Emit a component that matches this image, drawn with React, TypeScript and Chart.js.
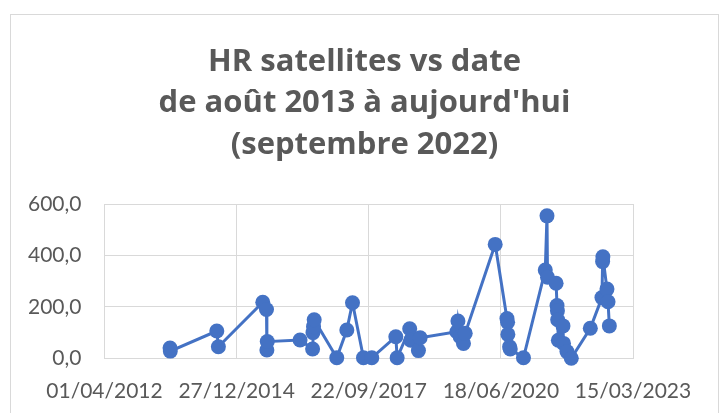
import React, { useEffect, useRef } from 'react';
import { Chart, registerables } from 'chart.js';

Chart.register(...registerables);

const TITLE_LINES = ['HR satellites vs date', "de août 2013 à aujourd'hui", '(septembre 2022)'];
const X_TICK_LABELS = ['01/04/2012', '27/12/2014', '22/09/2017', '18/06/2020', '15/03/2023'];
const Y_TICKS = [0, 200, 400, 600];

const DATES = [
  '10/08/2013', '12/08/2013', '30/07/2014', '11/08/2014',
  '13/07/2015', '10/08/2015', '13/08/2015', '16/08/2015',
  '20/04/2016', '24/07/2016', '27/07/2016', '31/07/2016', '05/08/2016',
  '23/01/2017', '09/04/2017', '22/05/2017', '13/08/2017', '15/10/2017',
  '15/04/2018', '25/04/2018', '29/07/2018', '06/08/2018', '03/10/2018', '16/10/2018',
  '21/07/2019', '29/07/2019', '15/08/2019', '09/09/2019', '22/09/2019',
  '06/05/2020', '03/08/2020', '08/08/2020', '10/08/2020', '23/08/2020', '28/08/2020', '06/12/2020',
  '20/05/2021', '02/06/2021', '06/06/2021', '10/08/2021', '17/08/2021', '20/08/2021', '22/08/2021',
  '27/08/2021', '01/10/2021', '05/10/2021', '31/10/2021', '03/12/2021',
  '26/04/2022', '23/07/2022', '28/07/2022', '30/07/2022', '30/08/2022', '07/09/2022', '17/09/2022',
];

const HR_VALUES = [
  40, 28, 106, 45,
  218, 190, 32, 65,
  71, 36, 100, 123, 150,
  2, 110, 216, 2, 2,
  84, 2, 115, 70, 30, 80,
  103, 145, 84, 58, 97,
  443, 155, 140, 93, 45, 36, 2,
  343, 554, 315, 292, 205, 185, 150,
  70, 126, 58, 26, 0,
  117, 236, 376, 395, 269, 220, 126,
];

function toSerial(s: string): number {
  const [d, m, y] = s.split('/').map(Number);
  return Date.UTC(y, m - 1, d) / 86400000 + 25569;
}

function fromSerial(v: number): string {
  const dt = new Date(Math.round(v - 25569) * 86400000);
  const dd = String(dt.getUTCDate()).padStart(2, '0');
  const mm = String(dt.getUTCMonth() + 1).padStart(2, '0');
  return `${dd}/${mm}/${dt.getUTCFullYear()}`;
}

const FONT = "Lato, 'Open Sans', sans-serif";
const TITLE_FONT = "'Open Sans', Lato, sans-serif";
const GREY_TEXT = '#595959';
const GRID = '#d9d9d9';
const BLUE = '#4472C4';

export default function App() {
  const ref = useRef<HTMLCanvasElement | null>(null);

  useEffect(() => {
    if (!ref.current) return;
    const xMin = toSerial(X_TICK_LABELS[0]);
    const xMax = toSerial(X_TICK_LABELS[X_TICK_LABELS.length - 1]);
    const xStep = (xMax - xMin) / (X_TICK_LABELS.length - 1);
    const points = DATES.map((d, i) => ({ x: toSerial(d), y: HR_VALUES[i] }));

    const chart = new Chart(ref.current, {
      type: 'line',
      data: {
        datasets: [
          {
            data: points,
            borderColor: BLUE,
            backgroundColor: BLUE,
            borderWidth: 3,
            pointRadius: 7.5,
            pointBorderWidth: 0,
            pointBackgroundColor: BLUE,
            tension: 0,
            clip: false,
          } as any,
        ],
      },
      options: {
        animation: false,
        responsive: false,
        devicePixelRatio: 1,
        layout: { padding: { left: 6, right: 0, top: 0, bottom: 0 } },
        plugins: {
          legend: { display: false },
          tooltip: { enabled: false },
          title: {
            display: true,
            text: TITLE_LINES,
            color: GREY_TEXT,
            font: { family: TITLE_FONT, size: 31, weight: 'bold', lineHeight: '41.5px' } as any,
            padding: { top: 41, bottom: 38.5 },
          },
        },
        scales: {
          x: {
            type: 'linear',
            min: xMin,
            max: xMax,
            ticks: {
              stepSize: xStep,
              color: GREY_TEXT,
              font: { family: FONT, size: 21 },
              padding: 20,
              maxRotation: 0,
              autoSkip: false,
              callback: (v: any) => fromSerial(Number(v)),
            },
            grid: { color: GRID, lineWidth: 1, drawTicks: false },
            border: { color: GRID, width: 1 },
            afterFit: (s: any) => { s.height = 54.7; },
          },
          y: {
            type: 'linear',
            min: Y_TICKS[0],
            max: Y_TICKS[Y_TICKS.length - 1],
            ticks: {
              stepSize: Y_TICKS[1] - Y_TICKS[0],
              color: GREY_TEXT,
              font: { family: FONT, size: 21 },
              padding: 23,
              callback: (v: any) => Number(v).toFixed(1).replace('.', ','),
            },
            grid: { color: GRID, lineWidth: 1, drawTicks: false },
            border: { color: GRID, width: 1 },
            afterFit: (s: any) => { s.width = 98.5; },
          },
          yRight: {
            type: 'linear',
            position: 'right',
            display: true,
            grid: { display: false, drawTicks: false },
            ticks: { display: false },
            border: { display: false },
            afterFit: (s: any) => { s.width = 90; },
          },
        },
      },
    });
    return () => chart.destroy();
  }, []);

  return (
    <div style={{ position: 'absolute', left: 0, top: 0, width: 723, height: 413, overflow: 'hidden', background: '#fff' }}>
      <div
        style={{
          position: 'absolute',
          left: 10,
          top: 14,
          width: 709,
          height: 420,
          border: `1px solid ${GRID}`,
          boxSizing: 'border-box',
        }}
      />
      <canvas ref={ref} width={723} height={413} style={{ position: 'absolute', left: 0, top: 0, width: 723, height: 413 }} />
    </div>
  );
}
